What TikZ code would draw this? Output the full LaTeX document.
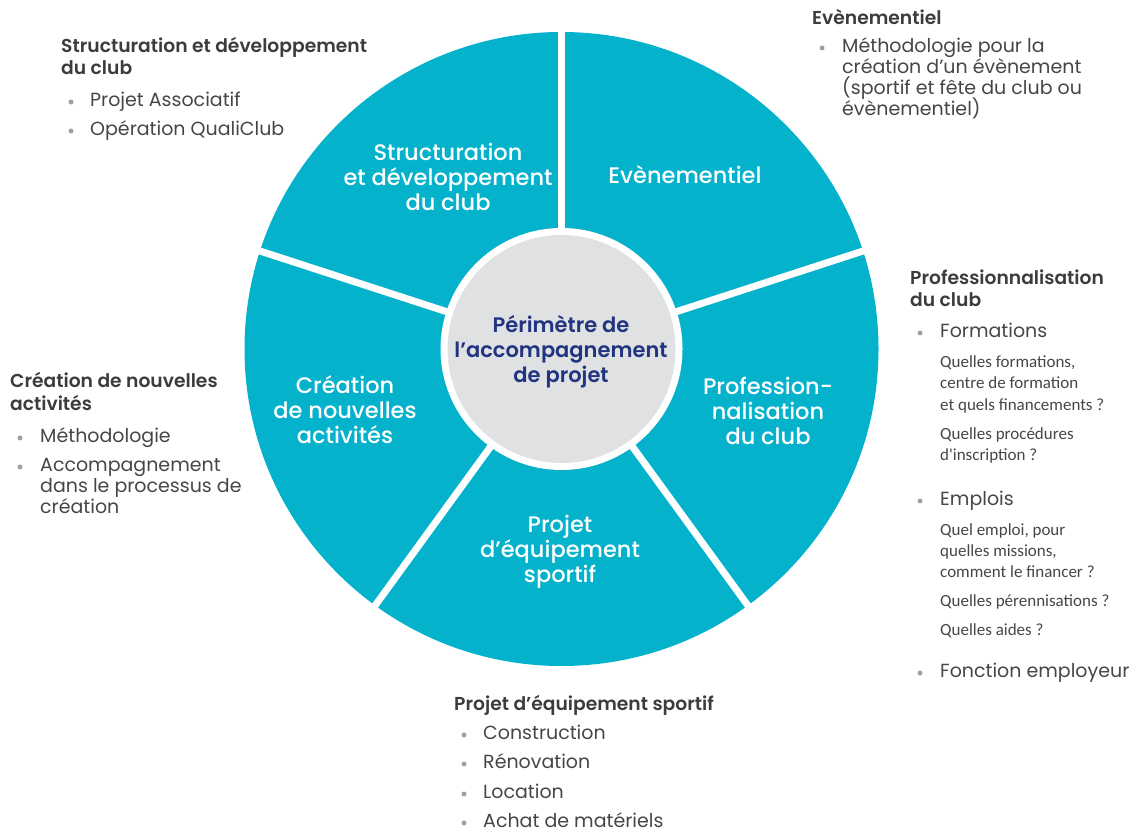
\documentclass[tikz,border=0pt]{standalone}
\usepackage{fontspec}
\setmainfont{Poppins}
\newfontfamily\carlito{Carlito}
\newfontfamily\pmed{Poppins Medium}
\newfontfamily\psemi{Poppins SemiBold}
\definecolor{teal}{RGB}{4,178,204}
\definecolor{innergray}{RGB}{224,225,227}
\definecolor{navy}{RGB}{33,52,128}
\definecolor{headgray}{RGB}{60,60,60}
\definecolor{bodygray}{RGB}{70,70,70}
\definecolor{bulgray}{RGB}{160,160,160}
\tikzset{
  hd/.style={anchor=mid west, inner sep=0, font=\psemi\fontsize{18.7}{18.7}\selectfont, text=headgray},
  tx/.style={anchor=mid west, inner sep=0, font=\fontsize{19}{19}\selectfont, text=bodygray},
  sq/.style={anchor=mid west, inner sep=0, font=\carlito\fontsize{17}{17}\selectfont, text=bodygray},
  bul/.style={circle, fill=bulgray, inner sep=0, minimum size=5pt},
  wl/.style={align=center, text=white, font=\pmed\fontsize{22.5}{25}\selectfont, inner sep=0},
  sep/.style={white, line width=7pt}
}
\begin{document}
\begin{tikzpicture}[x=1pt,y=1pt]
\useasboundingbox (0,0) rectangle (1131,835);
\coordinate (C) at (561.5,486);
% wheel
\fill[teal] (C) circle (317);
\foreach \a in {90,162,234,306,18} \draw[sep] (C) -- ++(\a:330);
\fill[white] (C) circle (121);
\fill[innergray] (C) circle (114);
% wheel labels
\node[wl] (wstruct) at (448,658) {Structuration\\et développement\\du club};
\node[wl] (wevt) at (685,660) {Evènementiel};
\node[wl] (wprof) at (768,424) {Profession-\\nalisation\\du club};
\node[wl] (wproj) at (560,283) {Projet\\d’équipement\\sportif};
\node[wl] (wcrea) at (345,425) {Création\\de nouvelles\\activités};
\node[wl, text=navy, font=\psemi\fontsize{21}{25}\selectfont] (wcenter) at (561,483) {Périmètre de\\l’accompagnement\\de projet};
% block A
\node[hd] (a1) at (61,785) {Structuration et développement};
\node[hd] (a2) at (61,763) {du club};
\node[bul] (ab1) at (71,733) {}; \node[tx] (at1) at (90,731) {Projet Associatif};
\node[bul] (ab2) at (71,704) {}; \node[tx] (at2) at (90,702) {Opération QualiClub};
% block B
\node[hd] (b1) at (812,813) {Evènementiel};
\node[bul] (bb1) at (822,787) {};
\node[tx] (bt1) at (842,785) {Méthodologie pour la};
\node[tx] (bt2) at (842,764) {création d’un évènement};
\node[tx] (bt3) at (842,743) {(sportif et fête du club ou};
\node[tx] (bt4) at (842,722) {évènementiel)};
% block C
\node[hd] (c1) at (910,553) {Professionnalisation};
\node[hd] (c2) at (910,531) {du club};
\node[bul] (cb1) at (920,502) {}; \node[tx] (ct1) at (940,500) {Formations};
\node[sq] (cq1) at (940,470) {Quelles formations,};
\node[sq] (cq2) at (940,449) {centre de formation};
\node[sq] (cq3) at (940,427) {et quels financements ?};
\node[sq] (cq4) at (940,398) {Quelles procédures};
\node[sq] (cq5) at (940,377) {d'inscription ?};
\node[bul] (cb2) at (920,334) {}; \node[tx] (ct2) at (940,332) {Emplois};
\node[sq] (cq6) at (940,302) {Quel emploi, pour};
\node[sq] (cq7) at (940,281) {quelles missions,};
\node[sq] (cq8) at (940,260) {comment le financer ?};
\node[sq] (cq9) at (940,231) {Quelles pérennisations ?};
\node[sq] (cq10) at (940,202) {Quelles aides ?};
\node[bul] (cb3) at (920,162) {}; \node[tx] (ct3) at (940,160) {Fonction employeur};
% block D
\node[hd] (d1) at (10,450) {Création de nouvelles};
\node[hd] (d2) at (10,427) {activités};
\node[bul] (db1) at (20,397) {}; \node[tx] (dt1) at (40,395) {Méthodologie};
\node[bul] (db2) at (20,368) {}; \node[tx] (dt2) at (40,366) {Accompagnement};
\node[tx] (dt3) at (40,345) {dans le processus de};
\node[tx] (dt4) at (40,324) {création};
% block E
\node[hd] (e1) at (454,127) {Projet d’équipement sportif};
\node[bul] (eb1) at (464,100) {}; \node[tx] (et1) at (483,98) {Construction};
\node[bul] (eb2) at (464,71) {}; \node[tx] (et2) at (483,69) {Rénovation};
\node[bul] (eb3) at (464,41) {}; \node[tx] (et3) at (483,39) {Location};
\node[bul] (eb4) at (464,12) {}; \node[tx] (et4) at (483,10) {Achat de matériels};
\end{tikzpicture}
\end{document}
